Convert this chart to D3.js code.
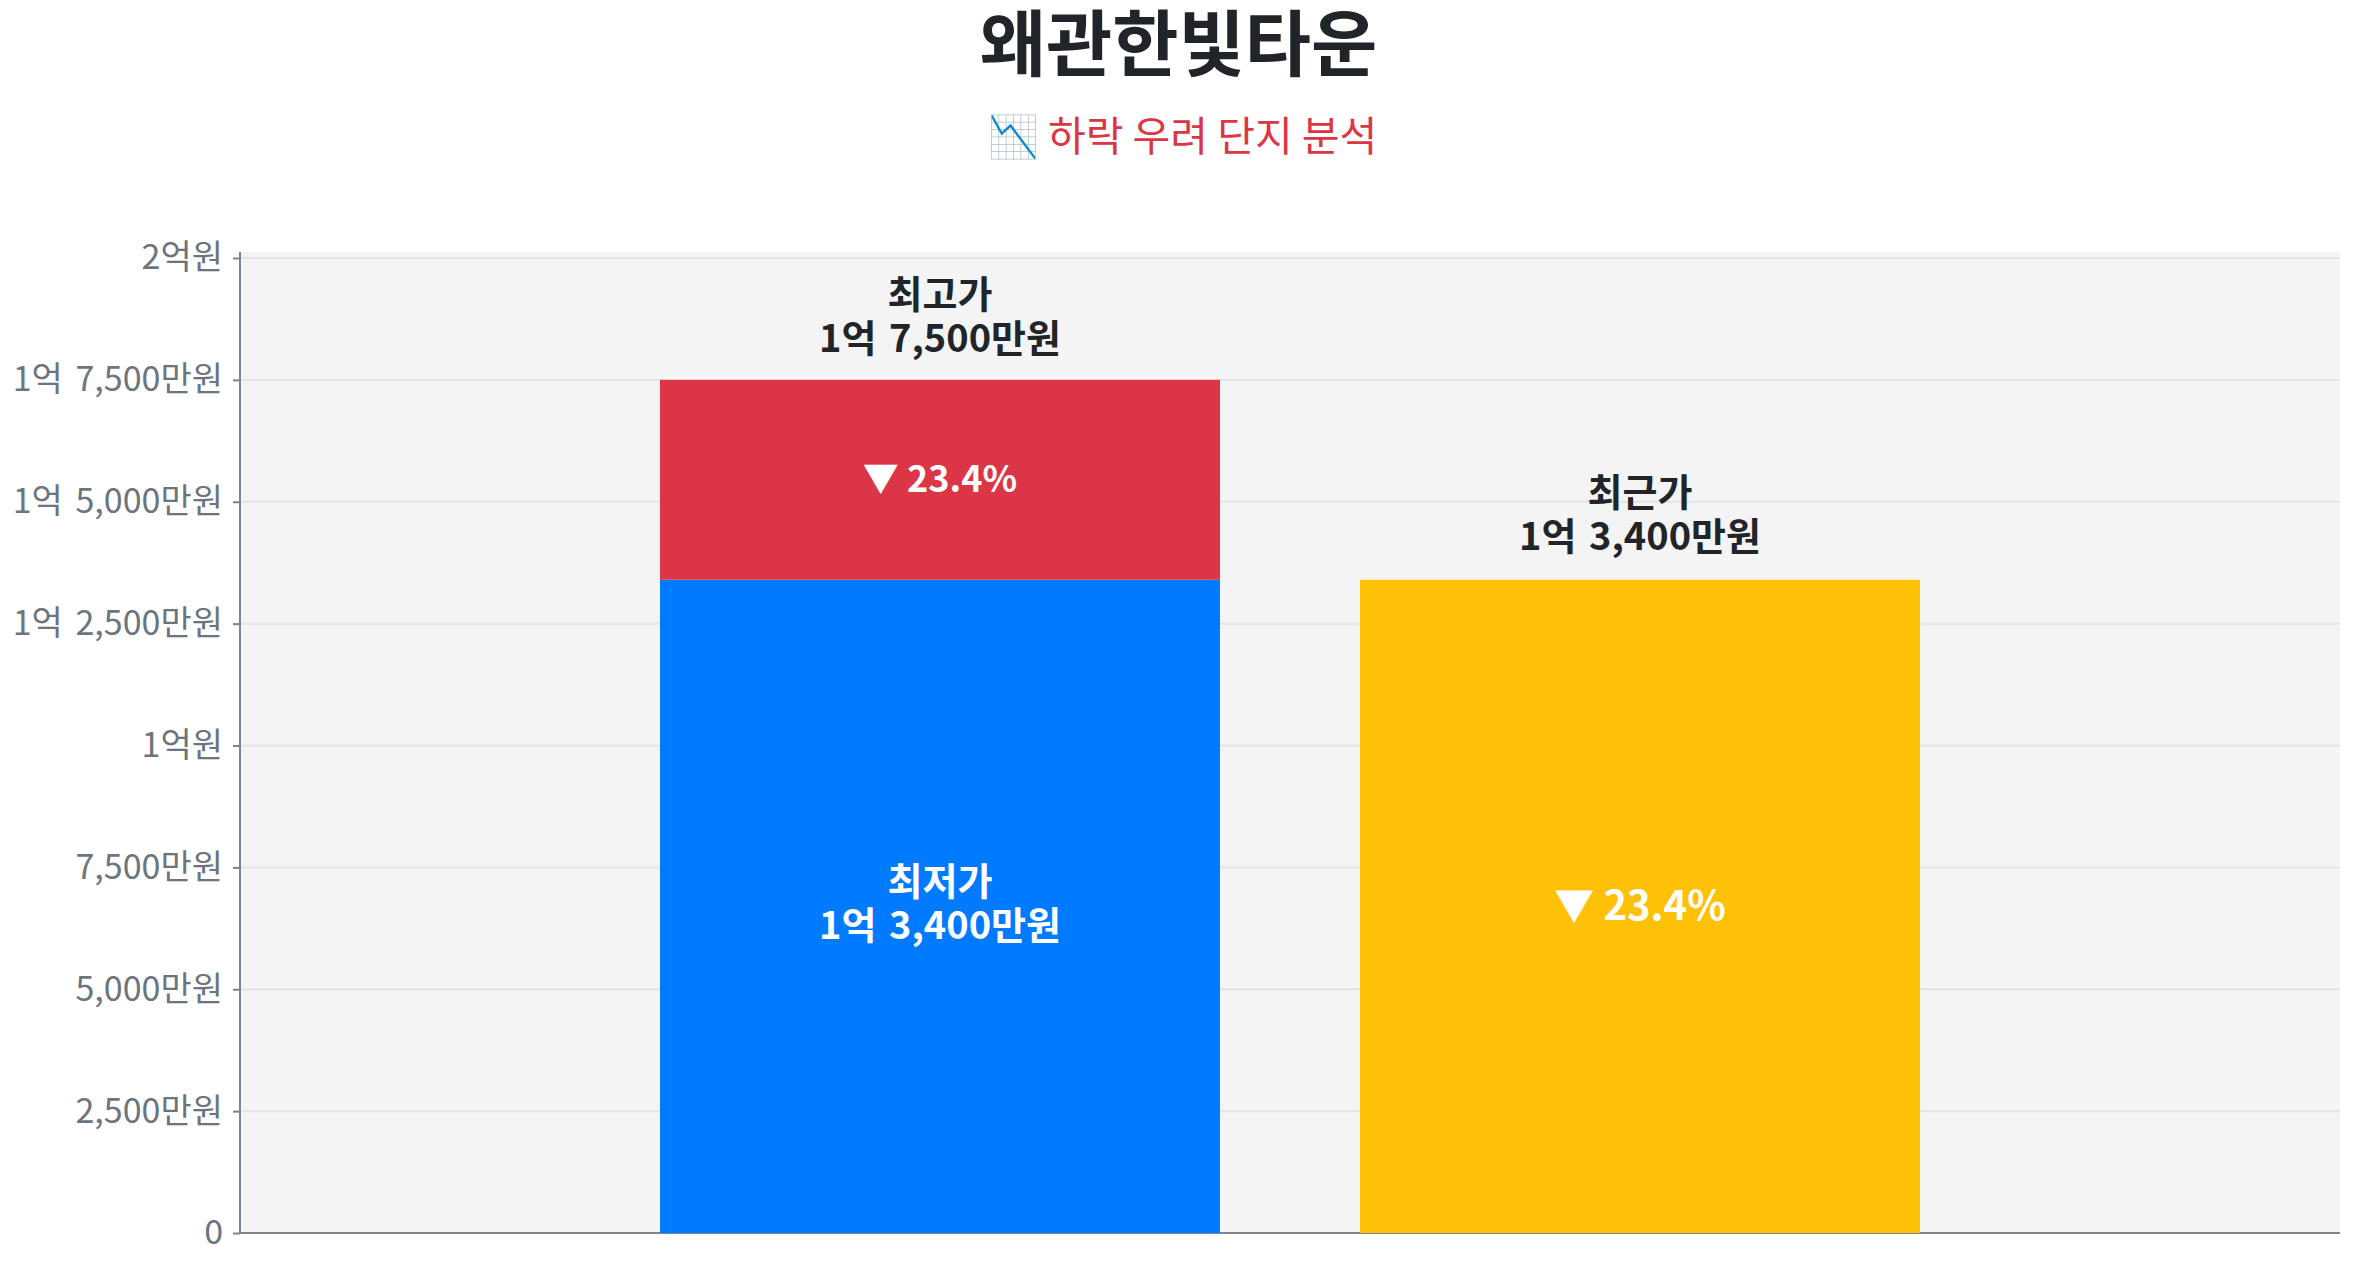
<!DOCTYPE html>
<html><head><meta charset="utf-8">
<script src="https://cdn.jsdelivr.net/npm/d3@7"></script>
<style>
html,body{margin:0;padding:0;background:#fff;}
svg{display:block;font-family:"Noto Sans CJK KR","Noto Sans",sans-serif;}
</style></head>
<body><svg id="chart" width="2357" height="1268"></svg>
<script>
// ---- data (values in 만원) ----
const titleText = "왜관한빛타운";
const subtitleText = "📉 하락 우려 단지 분석";
const categories = ["최고/최저", "최근가"];
const lowestPrice = [13400];          // 최저가
const highestPrice = [17500];         // 최고가
const recentPrice = [13400];          // 최근가
const dropPercent = [23.4, 23.4];     // 최고가 대비 하락률
const yTickValues = [0, 2500, 5000, 7500, 10000, 12500, 15000, 17500, 20000];

const W = 2357, H = 1268;
const margin = {left: 240, right: 17, top: 252, bottom: 35};
const plotL = margin.left, plotR = W - margin.right;
const plotT = margin.top, plotB = H - margin.bottom;

const svg = d3.select("#chart");

function fmtWon(v){
  if (v === 0) return "0";
  const eok = Math.floor(v / 10000), man = v % 10000;
  const manStr = d3.format(",")(man) + "만원";
  if (eok === 0) return manStr;
  if (man === 0) return eok + "억원";
  return eok + "억 " + manStr;
}

const x = d3.scalePoint().domain(categories).range([plotL, plotR]).padding(1);
const step = x.step();
const barW = step * 0.8;
const y = d3.scaleLinear().domain([0, 20000]).range([plotB, 258]);

// title
svg.append("text").attr("x", W/2).attr("y", 70).attr("text-anchor","middle")
  .attr("font-size", 72).attr("font-weight", 700).attr("fill", "#212529").text(titleText);
svg.append("text").attr("x", W/2 + 4).attr("y", 151).attr("text-anchor","middle")
  .attr("font-size", 41).attr("fill", "#dc3545").text(subtitleText);

// plot background
svg.append("rect").attr("x", plotL).attr("y", plotT).attr("width", plotR - plotL)
  .attr("height", plotB - plotT).attr("fill", "#f4f4f4");

// grid
svg.append("g").selectAll("line").data(yTickValues.slice(1)).join("line")
  .attr("x1", plotL).attr("x2", plotR).attr("y1", d => y(d)).attr("y2", d => y(d))
  .attr("stroke", "#e4e4e4").attr("stroke-width", 2);

// y axis
const yAxis = svg.append("g").attr("transform", `translate(${plotL},0)`)
  .call(d3.axisLeft(y).tickValues(yTickValues).tickFormat(fmtWon).tickSize(7).tickPadding(10));
yAxis.select(".domain").attr("stroke", "#7d848b").attr("stroke-width", 2)
  .attr("d", `M0,${plotT}V${plotB}`);
yAxis.selectAll(".tick line").attr("stroke", "#7d848b").attr("stroke-width", 2);
yAxis.selectAll(".tick text").attr("fill", "#6c757d").attr("font-size", 34)
  .attr("word-spacing", 5)
  .attr("font-family", "'Noto Sans CJK KR', sans-serif");

// bottom axis line
svg.append("line").attr("x1", plotL).attr("x2", plotR).attr("y1", plotB).attr("y2", plotB)
  .attr("stroke", "#7d848b").attr("stroke-width", 2);

const c0 = x(categories[0]), c1 = x(categories[1]);

// stacked bar: lowest (blue) + gap to highest (red)
svg.append("rect").attr("x", c0 - barW/2).attr("width", barW)
  .attr("y", y(lowestPrice[0])).attr("height", y(0) - y(lowestPrice[0])).attr("fill", "#007bff");
svg.append("rect").attr("x", c0 - barW/2).attr("width", barW)
  .attr("y", y(highestPrice[0])).attr("height", y(lowestPrice[0]) - y(highestPrice[0])).attr("fill", "#dc3545");
// recent bar (yellow)
svg.append("rect").attr("x", c1 - barW/2).attr("width", barW)
  .attr("y", y(recentPrice[0])).attr("height", y(0) - y(recentPrice[0])).attr("fill", "#ffc107");

function twoLine(cx, cy, l1, l2, color){
  const t = svg.append("text").attr("font-size", 38).attr("font-weight", 700)
    .attr("fill", color).attr("text-anchor", "middle").attr("word-spacing", 4);
  t.append("tspan").attr("x", cx).attr("y", cy - 22).attr("dominant-baseline", "central").text(l1);
  t.append("tspan").attr("x", cx).attr("y", cy + 22).attr("dominant-baseline", "central").text(l2);
}

// labels above bars
twoLine(c0, y(highestPrice[0]) - 66, "최고가", fmtWon(highestPrice[0]), "#212529");
twoLine(c1, y(recentPrice[0]) - 68, "최근가", fmtWon(recentPrice[0]), "#212529");
// inside blue
twoLine(c0, (y(0) + y(lowestPrice[0])) / 2 - 6, "최저가", fmtWon(lowestPrice[0]), "#ffffff");

// drop labels
svg.append("text").attr("x", c0).attr("y", (y(highestPrice[0]) + y(lowestPrice[0])) / 2 - 4)
  .attr("dominant-baseline", "central").attr("text-anchor", "middle")
  .attr("font-size", 36).attr("font-weight", 700).attr("fill", "#fff")
  .text("▼ " + dropPercent[0] + "%");
svg.append("text").attr("x", c1).attr("y", (y(0) + y(recentPrice[0])) / 2 - 3)
  .attr("dominant-baseline", "central").attr("text-anchor", "middle")
  .attr("font-size", 40).attr("font-weight", 700).attr("fill", "#fff")
  .text("▼ " + dropPercent[1] + "%");
</script></body></html>
